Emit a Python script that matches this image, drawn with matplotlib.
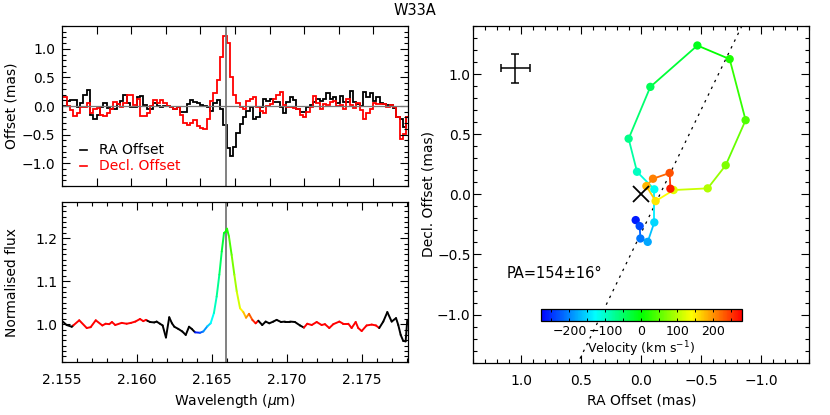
import numpy as np
import matplotlib
matplotlib.use("Agg")
import matplotlib.pyplot as plt
from matplotlib.collections import LineCollection
from matplotlib.colors import LinearSegmentedColormap, Normalize
from matplotlib.ticker import MultipleLocator, FixedLocator, NullFormatter
from matplotlib.cm import ScalarMappable

plt.rcParams['font.family'] = ['DejaVu Sans']
plt.rcParams['font.size'] = 10

# ---- spectro-astrometric offsets per channel (mas) ----
chan_start = 2.15509
chan_step = 0.000222
ra_offset = [0.0, 0.09, 0.1, 0.1, -0.01, 0.06, 0.19, 0.28, -0.16, -0.22,
             -0.16, -0.01, 0.06, -0.03, -0.05, -0.05, 0.03, 0.08, 0.19, 0.06,
             -0.01, -0.01, 0.16, 0.17, 0.01, -0.05, -0.05, 0.05, 0.0, -0.02,
             0.0, 0.0, -0.02, -0.05, -0.01, -0.1, -0.1, 0.03, 0.1, 0.07,
             0.05, 0.01, 0.0, -0.01, -0.09, 0.05, 0.1, -0.06, -0.34, -0.73,
             -0.87, -0.72, -0.47, -0.32, -0.19, -0.09, -0.01, -0.22, -0.2, -0.01,
             0.12, 0.09, 0.13, 0.07, 0.07, -0.01, -0.13, 0.07, 0.16, 0.1,
             -0.06, -0.1, -0.1, -0.01, 0.01, 0.07, 0.12, 0.09, 0.12, 0.22,
             0.12, 0.16, 0.06, 0.17, 0.07, 0.07, 0.27, 0.07, 0.03, 0.0,
             0.24, 0.15, 0.22, 0.09, 0.16, 0.06, 0.03, 0.01, 0.01, -0.03,
             -0.2, -0.23, -0.36, -0.2]
dec_offset = [0.15, 0.0, -0.07, -0.17, -0.12, -0.01, -0.01, 0.06, -0.12, -0.05,
              -0.03, -0.15, -0.17, -0.12, -0.05, 0.07, 0.03, -0.01, 0.05, 0.2,
              0.19, 0.01, 0.12, -0.17, -0.18, -0.12, 0.0, 0.1, 0.05, 0.1,
              0.06, 0.0, -0.02, -0.05, -0.01, -0.16, -0.29, -0.33, -0.3, -0.24,
              -0.35, -0.38, -0.41, -0.23, 0.09, 0.22, 0.45, 0.86, 1.22, 1.1,
              0.51, 0.2, 0.05, -0.01, -0.06, 0.09, 0.12, 0.16, -0.01, -0.09,
              -0.12, 0.0, 0.03, 0.12, 0.19, 0.24, 0.01, -0.01, -0.02, -0.03,
              -0.05, -0.15, -0.19, -0.1, -0.01, 0.17, 0.06, -0.05, 0.03, 0.01,
              0.07, 0.09, 0.0, 0.01, -0.05, 0.12, 0.01, -0.03, 0.06, -0.07,
              -0.22, -0.13, -0.06, 0.05, 0.04, 0.04, 0.03, -0.01, 0.01, -0.01,
              -0.2, -0.58, -0.49, -0.2]

# ---- normalised spectrum ----
spec_wave = [2.15505, 2.15531, 2.15565, 2.15575, 2.15615, 2.15665, 2.15691, 2.15725,
             2.15769, 2.15791, 2.15815, 2.15833, 2.15855, 2.15898, 2.15931, 2.15960,
             2.15989, 2.16020, 2.16042, 2.16060, 2.16069, 2.16087, 2.16115, 2.16131,
             2.16153, 2.16171, 2.16193, 2.16215, 2.16233, 2.16249, 2.16275, 2.16302,
             2.16325, 2.16347, 2.16365, 2.16387, 2.16420, 2.16442, 2.16469, 2.16491,
             2.16513, 2.16531, 2.16549, 2.16565, 2.16580, 2.16591, 2.16600, 2.16613,
             2.16631, 2.16649, 2.16665, 2.16687, 2.16709, 2.16727, 2.16747, 2.16769,
             2.16791, 2.16809, 2.16835, 2.16858, 2.16882, 2.16909, 2.16931, 2.16960,
             2.16987, 2.17020, 2.17053, 2.17087, 2.17113, 2.17135, 2.17165, 2.17198,
             2.17231, 2.17253, 2.17282, 2.17309, 2.17349, 2.17375, 2.17409, 2.17431,
             2.17458, 2.17475, 2.17498, 2.17531, 2.17565, 2.17593, 2.17615, 2.17642,
             2.17669, 2.17698, 2.17727, 2.17742, 2.17758, 2.17775, 2.17791, 2.17802]
spec_flux = [1.006, 0.998, 0.994, 0.997, 1.009, 0.991, 0.993, 1.009,
             0.997, 1.001, 1.000, 1.005, 0.998, 1.003, 1.001, 1.003,
             1.006, 1.012, 1.007, 1.010, 1.008, 1.005, 1.004, 1.006,
             1.001, 0.997, 0.969, 1.016, 1.002, 0.994, 0.989, 0.983,
             0.975, 0.994, 0.989, 0.981, 0.980, 0.983, 0.995, 1.002,
             1.026, 1.064, 1.115, 1.169, 1.212, 1.215, 1.222, 1.204,
             1.161, 1.115, 1.076, 1.037, 1.028, 1.015, 1.024, 1.010,
             1.002, 1.008, 0.998, 1.006, 1.002, 1.006, 1.010, 1.005,
             1.006, 1.006, 1.005, 0.997, 0.992, 1.001, 0.998, 1.005,
             0.998, 1.000, 0.991, 1.000, 1.006, 1.001, 1.001, 0.991,
             1.005, 0.991, 0.984, 0.997, 0.999, 0.997, 0.991, 1.006,
             1.028, 1.006, 1.014, 0.998, 0.975, 0.961, 0.960, 1.010]

line_centre = 2.16593
cont_ranges = [(2.15575, 2.16069), (2.17109, 2.17625)]

# ---- photocentre per velocity bin ----
vel = [-263, -235, -208, -180, -152, -124, -97, -69, -42, -14,
       14, 42, 69, 97, 124, 152, 180, 208, 235, 263]
pt_ra = [0.047, 0.014, 0.008, -0.053, -0.108, -0.108, 0.036, 0.106, -0.075, -0.467,
         -0.736, -0.869, -0.703, -0.553, -0.269, -0.119, -0.042, -0.097, -0.236, -0.242]
pt_dec = [-0.214, -0.264, -0.367, -0.395, -0.233, 0.042, 0.188, 0.463, 0.894, 1.238,
          1.125, 0.617, 0.242, 0.05, 0.036, -0.056, 0.069, 0.13, 0.178, 0.047]

pa_deg = 154
pa_centre = (-0.155, 0.0)
star_pos = (0.0, 0.0)
err_pos = (1.05, 1.05)
err_size = 0.12
vmin, vmax = -280, 280

cmap = LinearSegmentedColormap.from_list(
    'vel', [(0.0, (0, 0, 1)), (0.27, (0, 1, 1)), (0.5, (0, 1, 0)),
            (0.75, (1, 1, 0)), (1.0, (1, 0, 0))])
norm = Normalize(vmin, vmax)
c_kms = 2.998e5

fig = plt.figure(figsize=(8.3, 4.15), dpi=100)
ax1 = fig.add_axes([0.0747, 0.5518, 0.4169, 0.3855])
ax2 = fig.add_axes([0.0747, 0.1277, 0.4169, 0.3855])
ax3 = fig.add_axes([0.5703, 0.1260, 0.4048, 0.8113])
cax = fig.add_axes([0.6514, 0.2272, 0.2429, 0.0282])

xlo, xhi = 2.155, 2.17807


def style(ax, pad):
    ax.tick_params(which='both', direction='in', top=True, right=True, width=0.8)
    ax.tick_params(which='major', length=6, pad=pad)
    ax.tick_params(which='minor', length=3)
    for s in ax.spines.values():
        s.set_linewidth(0.9)


# top: offsets
edges = chan_start + chan_step * np.arange(len(ra_offset) + 1)
ax1.axhline(0, color='#777777', lw=0.9)
ax1.axvline(line_centre, color='#777777', lw=1.3)
ax1.stairs(ra_offset, edges, baseline=None, color='k', lw=1.3)
ax1.stairs(dec_offset, edges, baseline=None, color='red', lw=1.3)
ax1.set_xlim(xlo, xhi)
ax1.set_ylim(-1.4, 1.4)
ax1.xaxis.set_major_locator(FixedLocator([xlo + k * (xhi - xlo) / 10 for k in range(1, 10)]))
ax1.xaxis.set_major_formatter(NullFormatter())
ax1.yaxis.set_minor_locator(MultipleLocator(0.1))
ax1.set_yticks([-1.0, -0.5, 0.0, 0.5, 1.0])
ax1.set_yticklabels(['\u22121.0', '\u22120.5', '0.0', '0.5', '1.0'])
ax1.set_ylabel('Offset (mas)')
ax1.yaxis.set_label_coords(-0.125, 0.5)
style(ax1, 5)
ax1.plot([0.052, 0.072], [0.225, 0.225], color='k', lw=1.2, transform=ax1.transAxes)
ax1.text(0.107, 0.225, 'RA Offset', color='k', va='center', transform=ax1.transAxes)
ax1.plot([0.052, 0.072], [0.125, 0.125], color='red', lw=1.2, transform=ax1.transAxes)
ax1.text(0.107, 0.125, 'Decl. Offset', color='red', va='center', transform=ax1.transAxes)

# bottom: spectrum coloured by velocity
w = np.array(spec_wave)
f = np.array(spec_flux)
pts = np.column_stack([w, f])
segs = np.stack([pts[:-1], pts[1:]], axis=1)
mid = 0.5 * (w[:-1] + w[1:])
v_mid = (mid - line_centre) / line_centre * c_kms
seg_cols = []
for lm, vm in zip(mid, v_mid):
    if abs(vm) <= 290:
        seg_cols.append(cmap(norm(vm)))
    elif any(a <= lm <= b for a, b in cont_ranges):
        seg_cols.append((1, 0, 0, 1))
    else:
        seg_cols.append((0, 0, 0, 1))
ax2.axvline(line_centre, color='#777777', lw=1.3)
ax2.add_collection(LineCollection(segs, colors=seg_cols, linewidths=1.4, capstyle='round'))
ax2.set_xlim(xlo, xhi)
ax2.set_ylim(0.912, 1.284)
ax2.set_xticks([2.155, 2.160, 2.165, 2.170, 2.175])
ax2.set_xticklabels(['2.155', '2.160', '2.165', '2.170', '2.175'])
ax2.xaxis.set_minor_locator(MultipleLocator(0.001))
ax2.set_yticks([1.0, 1.1, 1.2])
ax2.set_yticklabels(['1.0', '1.1', '1.2'])
ax2.yaxis.set_minor_locator(MultipleLocator(0.0125))
ax2.set_ylabel('Normalised flux')
ax2.yaxis.set_label_coords(-0.125, 0.5)
ax2.set_xlabel('Wavelength ($\\mu$m)')
ax2.xaxis.set_label_coords(0.5, -0.19)
style(ax2, 3)
ax2.tick_params(axis='x', pad=8)

# right: photocentre map
t = np.array([-2.0, 2.0])
pa = np.radians(pa_deg)
ax3.plot(pa_centre[0] + t * np.sin(pa), pa_centre[1] + t * np.cos(pa),
         color='k', lw=0.9, ls=(0, (2, 4)))
for i in range(len(vel) - 1):
    ax3.plot(pt_ra[i:i + 2], pt_dec[i:i + 2], color=cmap(norm(0.5 * (vel[i] + vel[i + 1]))),
             lw=1.3, zorder=3)
ax3.scatter(pt_ra, pt_dec, c=vel, cmap=cmap, norm=norm, s=36, zorder=4, linewidths=0)
ax3.plot(*star_pos, marker='x', ms=11, mew=1.3, color='k', zorder=5)
ax3.errorbar(err_pos[0], err_pos[1], xerr=err_size, yerr=err_size, color='k',
             lw=1.1, capsize=3, capthick=1.1)
ax3.text(1.12, -0.66, 'PA=154\u00b116\u00b0', ha='left', va='center', fontsize=10.5)
ax3.set_xlim(1.4, -1.4)
ax3.set_ylim(-1.4, 1.4)
ax3.set_xticks([1.0, 0.5, 0.0, -0.5, -1.0])
ax3.set_xticklabels(['1.0', '0.5', '0.0', '\u22120.5', '\u22121.0'])
ax3.set_yticks([-1.0, -0.5, 0.0, 0.5, 1.0])
ax3.set_yticklabels(['\u22121.0', '\u22120.5', '0.0', '0.5', '1.0'])
ax3.xaxis.set_minor_locator(MultipleLocator(0.1))
ax3.yaxis.set_minor_locator(MultipleLocator(0.1))
ax3.set_xlabel('RA Offset (mas)')
ax3.xaxis.set_label_coords(0.5, -0.09)
ax3.set_ylabel('Decl. Offset (mas)')
ax3.yaxis.set_label_coords(-0.114, 0.5)
style(ax3, 2)
ax3.tick_params(axis='x', pad=8)

# colour bar
cb = fig.colorbar(ScalarMappable(norm=norm, cmap=cmap), cax=cax, orientation='horizontal')
cb.outline.set_linewidth(0.9)
cb.set_ticks([-200, -100, 0, 100, 200])
cb.set_ticklabels(['\u2212200', '\u2212100', '0', '100', '200'])
cax.xaxis.set_minor_locator(MultipleLocator(50))
cax.tick_params(which='both', direction='in', top=True, bottom=True, length=2.5,
                width=0.7, labelsize=9, pad=3)
cb.set_label('Velocity (km s$^{-1}$)', fontsize=9, labelpad=1)

fig.text(0.5, 0.974, 'W33A', ha='center', va='center', fontsize=10.5)

fig.savefig('out.png', dpi=100)
